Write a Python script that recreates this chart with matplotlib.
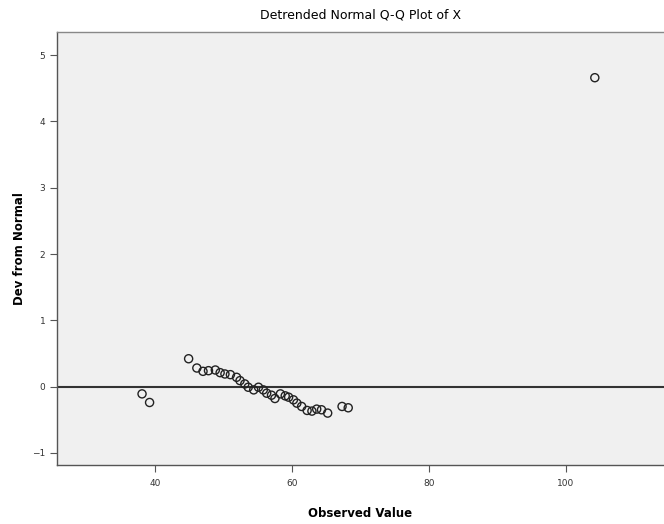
import matplotlib.pyplot as plt
import numpy as np

observed = [38.1, 39.2, 44.9, 46.1, 47.0, 47.8, 48.8, 49.5, 50.2, 51.0, 51.9, 52.4,
            53.1, 53.6, 54.4, 55.1, 55.8, 56.3, 57.0, 57.5, 58.3, 59.0, 59.5, 60.2,
            60.7, 61.4, 62.2, 62.9, 63.6, 64.3, 65.2, 67.3, 68.2, 104.2]
dev = [-0.11, -0.24, 0.42, 0.28, 0.23, 0.24, 0.25, 0.21, 0.19, 0.18, 0.14, 0.09,
       0.04, -0.01, -0.05, -0.01, -0.05, -0.10, -0.13, -0.18, -0.11, -0.14, -0.16, -0.20,
       -0.25, -0.30, -0.36, -0.37, -0.34, -0.35, -0.40, -0.30, -0.32, 4.66]

xticks = [40, 60, 80, 100]
yticks = [-1, 0, 1, 2, 3, 4, 5]

fig = plt.figure(figsize=(6.64, 5.24), dpi=100)
ax = fig.add_axes([0.086, 0.113, 0.914, 0.826])
ax.set_facecolor('#f0f0f0')

ax.axhline(0, color='#333333', linewidth=1.5, zorder=1)
ax.scatter(observed, dev, s=34, facecolors='none', edgecolors='#222222', linewidths=1.0, zorder=2)

ax.set_xlim(25.7, 114.3)
ax.set_ylim(-1.18, 5.35)
ax.set_xticks(xticks)
ax.set_yticks(yticks)
ax.tick_params(labelsize=6.5, length=5, width=0.8, color='#555555', labelcolor='#333333')
ax.tick_params(axis='x', pad=5)

for s in ['left', 'bottom', 'top']:
    ax.spines[s].set_color('#555555')
    ax.spines[s].set_linewidth(1.0)
ax.spines['top'].set_color('#888888')
ax.spines['right'].set_visible(False)

ax.set_title('Detrended Normal Q-Q Plot of X', fontsize=9, pad=10)
ax.set_xlabel('Observed Value', fontsize=8.5, fontweight='bold', labelpad=14)
ax.set_ylabel('Dev from Normal', fontsize=8.5, fontweight='bold', labelpad=4)

plt.savefig('out.png', dpi=100)
